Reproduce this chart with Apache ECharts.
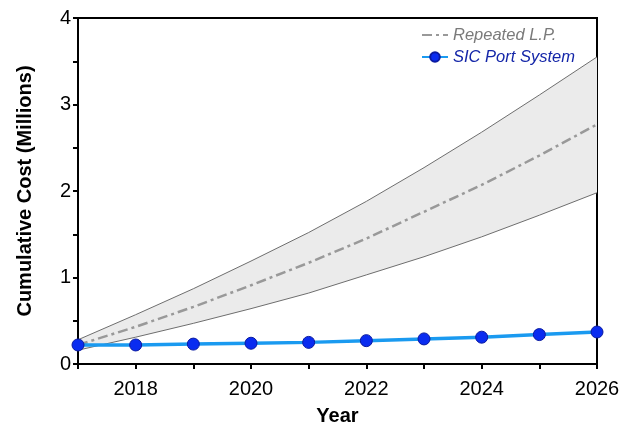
<!DOCTYPE html>
<html>
<head>
<meta charset="utf-8">
<script src="https://cdn.jsdelivr.net/npm/echarts@6/dist/echarts.min.js"></script>
<style>
  html, body { margin: 0; padding: 0; background: #fff; }
  #chart { width: 620px; height: 427px; }
</style>
</head>
<body>
<div id="chart"></div>
<script>
// Years and cumulative cost (millions)
const years = ['2017', '2018', '2019', '2020', '2021', '2022', '2023', '2024', '2025', '2026'];
const repeatedLP = [0.22, 0.43, 0.66, 0.91, 1.17, 1.45, 1.76, 2.07, 2.41, 2.77];
const repeatedLow = [0.16, 0.31, 0.47, 0.64, 0.82, 1.03, 1.24, 1.47, 1.72, 1.98];
const repeatedHigh = [0.28, 0.57, 0.87, 1.19, 1.52, 1.88, 2.27, 2.68, 3.11, 3.55];
const sicPort = [0.22, 0.22, 0.23, 0.24, 0.25, 0.27, 0.29, 0.31, 0.34, 0.37];
const yTickLabels = ['0', '1', '2', '3', '4'];

const FONT = 'Liberation Sans, Arial, Helvetica, sans-serif';

const chart = echarts.init(document.getElementById('chart'), null, { renderer: 'canvas' });

chart.setOption({
  animation: false,
  backgroundColor: '#ffffff',
  grid: {
    left: 78, right: 23, top: 18, bottom: 63,
    outerBoundsMode: 'none',
    containLabel: false,
    show: true, borderColor: '#000', borderWidth: 2, backgroundColor: 'transparent'
  },
  legend: {
    orient: 'vertical',
    left: 421,
    top: 26,
    padding: 0,
    itemWidth: 26,
    itemHeight: 12,
    itemGap: 4,
    data: [
      { name: 'Repeated L.P.', textStyle: { color: '#7a7a7a' }, itemStyle: { opacity: 0 } },
      { name: 'SIC Port System', textStyle: { color: '#1426a8' } }
    ],
    textStyle: { fontFamily: FONT, fontSize: 16.5, lineHeight: 18, fontStyle: 'italic' }
  },
  xAxis: {
    type: 'category',
    data: years,
    boundaryGap: false,
    name: 'Year',
    nameLocation: 'middle',
    nameGap: 42,
    nameTextStyle: { fontFamily: FONT, fontSize: 20, fontWeight: 'bold', color: '#000' },
    axisLine: { show: true, lineStyle: { color: '#000', width: 2 } },
    axisTick: { show: true, interval: 0, length: 5, lineStyle: { color: '#000', width: 2 } },
    axisLabel: {
      fontFamily: FONT, fontSize: 20, color: '#000', margin: 15, interval: 0,
      formatter: (v) => (Number(v) % 2 === 0 ? v : '')
    },
    splitLine: { show: false }
  },
  yAxis: {
    type: 'value',
    min: 0,
    max: 4,
    interval: 0.5,
    name: 'Cumulative Cost (Millions)',
    nameLocation: 'middle',
    nameGap: 43,
    nameRotate: 90,
    nameTextStyle: { fontFamily: FONT, fontSize: 20, fontWeight: 'bold', color: '#000' },
    axisLine: { show: true, lineStyle: { color: '#000', width: 2 } },
    axisTick: { show: true, length: 5, lineStyle: { color: '#000', width: 2 } },
    axisLabel: {
      fontFamily: FONT, fontSize: 20, color: '#000', margin: 7,
      formatter: (v) => (Number.isInteger(v) ? yTickLabels[v] : '')
    },
    splitLine: { show: false }
  },
  series: [
    {
      name: 'band-low',
      type: 'line',
      stack: 'band',
      data: repeatedLow,
      symbol: 'none',
      lineStyle: { color: '#6e6e6e', width: 1 },
      silent: true,
      z: 1
    },
    {
      name: 'band-high',
      type: 'line',
      stack: 'band',
      data: repeatedHigh.map((v, i) => v - repeatedLow[i]),
      symbol: 'none',
      lineStyle: { color: '#6e6e6e', width: 1 },
      areaStyle: { color: '#ebebeb', opacity: 1 },
      silent: true,
      z: 1
    },
    {
      name: 'Repeated L.P.',
      type: 'line',
      data: repeatedLP,
      symbol: 'none',
      itemStyle: { color: '#999999' },
      lineStyle: { color: '#999999', width: 2.5, type: [10, 4, 3, 4] },
      z: 2
    },
    {
      name: 'SIC Port System',
      type: 'line',
      data: sicPort,
      symbol: 'circle',
      symbolSize: 12,
      itemStyle: { color: '#0a2cf0', borderColor: '#0a1aa0', borderWidth: 1 },
      lineStyle: { color: '#1a9af0', width: 3.5 },
      z: 3
    }
  ]
});
</script>
</body>
</html>
